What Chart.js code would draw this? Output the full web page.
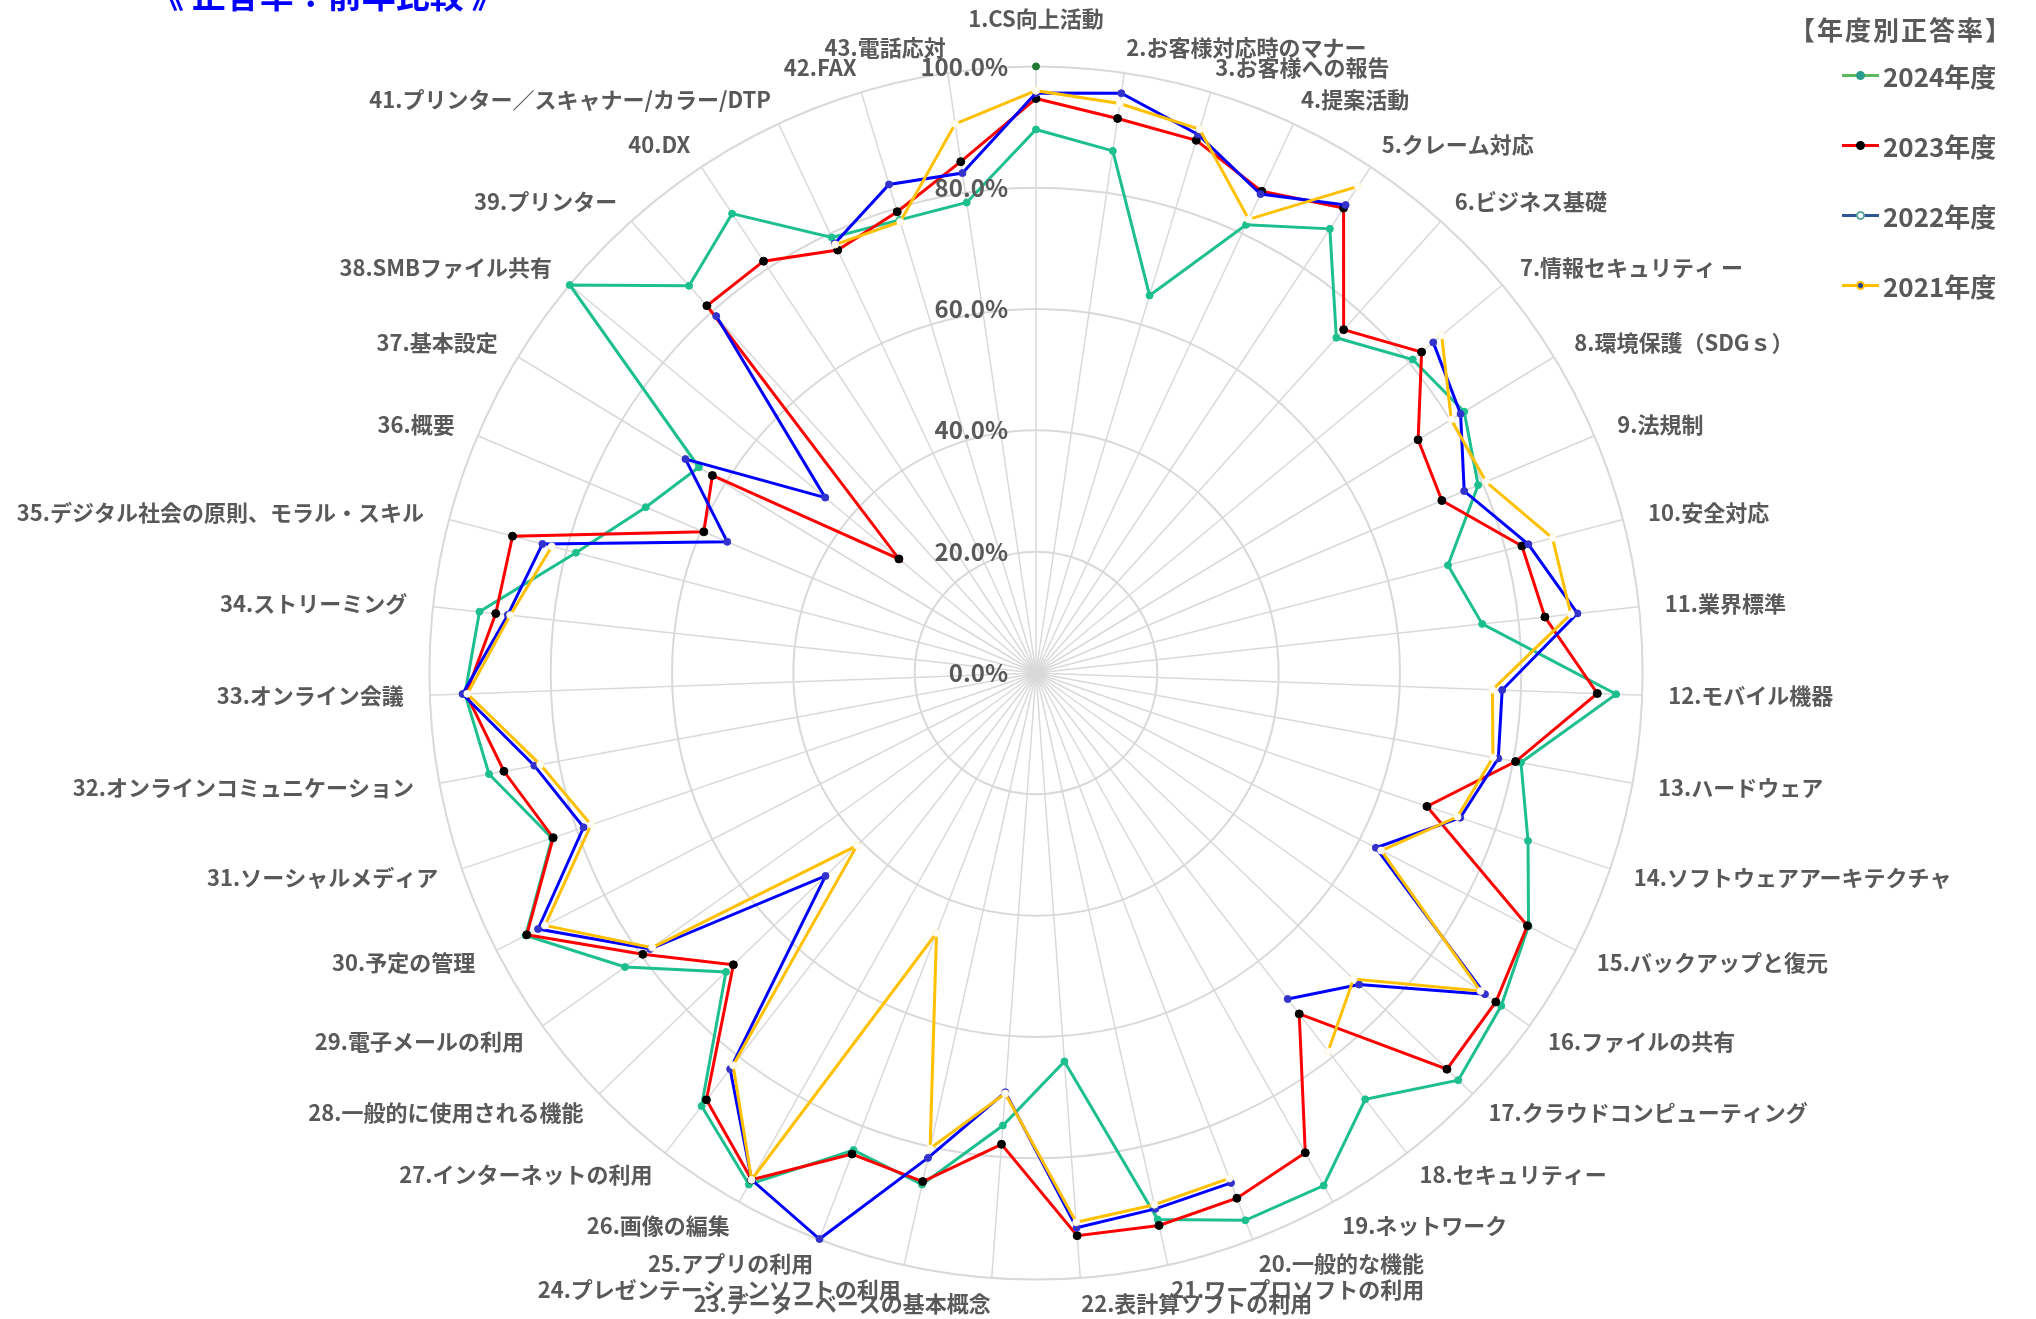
<!DOCTYPE html>
<html lang="ja">
<head>
<meta charset="utf-8">
<title>正答率：前年比較</title>
<script src="https://cdn.jsdelivr.net/npm/chart.js@4.4.1/dist/chart.umd.min.js"></script>
<style>
  html, body { margin: 0; padding: 0; background: #fff; overflow: hidden; width: 2036px; height: 1319px; }
  body { position: relative; font-family: "Noto Sans CJK JP", sans-serif; }
  #chartBox { position: absolute; left: -264px; top: 1px; width: 2600px; height: 1326px; }
  .title { position: absolute; left: 150px; top: -23px; font-size: 34px; font-weight: bold; color: #0000ff; white-space: nowrap; line-height: 1; z-index: 2; }
  .legend-title { position: absolute; left: 1789px; top: 12px; font-size: 26px; line-height: 34px; font-weight: bold; color: #595959; letter-spacing: 2px; white-space: nowrap; z-index: 2; }
  .legend { position: absolute; left: 1842px; top: 40px; z-index: 2; }
  .legend-row { display: flex; align-items: center; height: 70px; }
  .legend-mark { position: relative; width: 37px; height: 3px; margin-right: 4px; }
  .legend-dot { position: absolute; left: 14px; top: -3px; width: 9px; height: 9px; border-radius: 50%; box-sizing: border-box; }
  .legend-text { font-size: 26px; font-weight: bold; color: #595959; white-space: nowrap; }
</style>
</head>
<body>
<div class="title">《 正答率：前年比較 》</div>
<div class="legend-title">【年度別正答率】</div>
<div class="legend" id="legend"></div>
<div id="chartBox"><canvas id="radar" width="2600" height="1326"></canvas></div>
<script>
// 設問カテゴリ（43項目）
const categories = [
    '1.CS向上活動', '2.お客様対応時のマナー', '3.お客様への報告', '4.提案活動', '5.クレーム対応',
    '6.ビジネス基礎', '7.情報セキュリティ ー', '8.環境保護（SDGｓ）', '9.法規制', '10.安全対応',
    '11.業界標準', '12.モバイル機器', '13.ハードウェア', '14.ソフトウェアアーキテクチャ', '15.バックアップと復元',
    '16.ファイルの共有', '17.クラウドコンピューティング', '18.セキュリティー', '19.ネットワーク', '20.一般的な機能',
    '21.ワープロソフトの利用', '22.表計算ソフトの利用', '23.データーベースの基本概念', '24.プレゼンテーションソフトの利用', '25.アプリの利用',
    '26.画像の編集', '27.インターネットの利用', '28.一般的に使用される機能', '29.電子メールの利用', '30.予定の管理',
    '31.ソーシャルメディア', '32.オンラインコミュニケーション', '33.オンライン会議', '34.ストリーミング', '35.デジタル社会の原則、モラル・スキル',
    '36.概要', '37.基本設定', '38.SMBファイル共有', '39.プリンター', '40.DX',
    '41.プリンター／スキャナー/カラー/DTP', '42.FAX', '43.電話応対'
];

// 年度別正答率（%）
const v2024 = [
    89.6, 87.0, 65.0, 81.6, 87.8, 74.2, 80.8, 82.7, 79.2, 70.2,
    74.0, 95.7, 81.3, 85.7, 91.3, 94.3, 96.7, 88.8, 96.9, 96.6,
    92.3, 64.2, 74.8, 86.4, 84.2, 96.7, 90.2, 71.0, 83.3, 94.6,
    84.3, 91.7, 94.2, 92.3, 78.4, 69.9, 65.1, 100.0, 85.7, 90.8,
    79.3, 78.0, 78.4
];
const v2023 = [
    94.7, 92.4, 91.7, 87.7, 91.9, 76.0, 82.7, 73.8, 72.7, 82.8,
    84.4, 92.6, 80.4, 68.1, 91.1, 93.2, 94.1, 71.0, 90.7, 92.7,
    93.3, 93.0, 77.9, 85.9, 84.9, 95.8, 88.9, 69.3, 79.7, 94.4,
    84.1, 89.2, 94.0, 89.6, 89.2, 59.5, 62.5, 29.4, 81.3, 81.4,
    77.0, 79.4, 85.2
];
const v2022 = [
    95.6, 96.6, 92.7, 87.2, 92.5, null, 85.2, 82.0, 76.7, 83.9,
    89.8, 76.9, 77.5, 73.9, 63.0, 91.0, 74.0, 67.9, null, 90.0,
    90.5, 91.7, 69.3, 81.9, 99.9, 95.8, 82.5, 48.2, 78.2, 92.3,
    78.8, 84.1, 94.6, 87.6, 84.1, 55.3, 67.7, 45.2, 79.0, null,
    78.2, 84.1, 83.3
];
const v2021 = [
    96.0, 94.9, 93.6, 82.6, 96.2, null, 87.0, 80.2, 80.6, 88.0,
    88.7, 75.3, 76.6, 73.4, 64.0, 90.1, 72.7, 78.8, null, 89.2,
    89.8, 90.8, 69.5, 80.3, 45.9, 95.8, 81.7, 41.0, 77.8, 91.0,
    77.5, 83.1, 93.8, 87.2, 82.5, null, null, null, null, null,
    78.0, 77.7, 91.5
];
// 先頭軸の100%マーカー
const vMarker = [100.0];

const tickValues = [0, 20, 40, 60, 80, 100];

const seriesNames = ['2024年度', '2023年度', '2022年度', '2021年度'];

// 凡例の見た目（Excel の凡例に合わせる）
const legendStyles = [
    { line: '#5cb85c', dot: '#2a9d8f', dotBorder: '#2a9d8f' },
    { line: '#ff0000', dot: '#000000', dotBorder: '#000000' },
    { line: '#2f5597', dot: '#ffffff', dotBorder: '#5fa8a0' },
    { line: '#ffc000', dot: '#1f3f9f', dotBorder: '#ffc000' }
];

const legendEl = document.getElementById('legend');
legendEl.innerHTML = seriesNames.map((name, i) => `
    <div class="legend-row">
      <div class="legend-mark" style="background:${legendStyles[i].line}">
        <div class="legend-dot" style="background:${legendStyles[i].dot};border:2px solid ${legendStyles[i].dotBorder}"></div>
      </div>
      <span class="legend-text">${name}</span>
    </div>`).join('');

const labelFont = '"Noto Sans CJK JP", "Noto Sans", sans-serif';

// 目盛りラベルを軸の左側に描く
const tickLabelPlugin = {
    id: 'tickLabels',
    afterDatasetsDraw(chart) {
        const scale = chart.scales.r;
        const ctx = chart.ctx;
        ctx.save();
        ctx.font = `bold 24px ${labelFont}`;
        ctx.fillStyle = '#595959';
        ctx.textAlign = 'right';
        ctx.textBaseline = 'middle';
        tickValues.forEach(v => {
            const d = scale.getDistanceFromCenterForValue(v);
            ctx.fillText(v.toFixed(1) + '%', scale.xCenter - 28, scale.yCenter - d);
        });
        ctx.restore();
    }
};

// Excel 風に、横向きの項目名を軸の先端へ縦方向に寄せる
function centerPointLabels(scale) {
    const n = categories.length;
    (scale._pointLabelItems || []).forEach((item, i) => {
        const a = i * 2 * Math.PI / n;
        const h = item.bottom - item.top;
        let shift = (h / 2) * Math.abs(Math.sin(a)) * (Math.cos(a) >= 0 ? 1 : -1);
        if (i === 0) shift = -5;
        item.y += shift;
        item.top += shift;
        item.bottom += shift;
    });
}

function lineSet(label, data, color, pointColor, pointBorder, radius, order) {
    return {
        label,
        data,
        borderColor: color,
        backgroundColor: color,
        borderWidth: 3,
        fill: false,
        tension: 0,
        spanGaps: false,
        pointRadius: radius,
        pointHoverRadius: radius,
        pointBackgroundColor: pointColor,
        pointBorderColor: pointBorder,
        pointBorderWidth: 1,
        order
    };
}

const ctx = document.getElementById('radar').getContext('2d');
new Chart(ctx, {
    type: 'radar',
    data: {
        labels: categories,
        datasets: [
            lineSet(seriesNames[0], v2024, '#1dbf8e', '#1dbf8e', '#1dbf8e', 3.5, 4),
            lineSet(seriesNames[1], v2023, '#ff0000', '#000000', '#000000', 4, 3),
            lineSet(seriesNames[2], v2022, '#0000ff', '#3333cc', '#3333cc', 3.5, 2),
            lineSet(seriesNames[3], v2021, '#ffc000', '#ffffff', '#fff2cc', 3.5, 1),
            {
                label: 'marker',
                data: vMarker,
                showLine: false,
                pointRadius: 3.5,
                pointBackgroundColor: '#1e7b34',
                pointBorderColor: '#1e7b34',
                order: 0
            }
        ]
    },
    options: {
        responsive: false,
        animation: false,
        devicePixelRatio: 1,
        layout: { padding: 0 },
        plugins: {
            legend: { display: false },
            tooltip: { enabled: false }
        },
        scales: {
            r: {
                min: 0,
                max: 100,
                afterFit: centerPointLabels,
                ticks: { display: false, stepSize: 20 },
                grid: { circular: true, color: '#d9d9d9', lineWidth: 2 },
                angleLines: { color: '#d9d9d9', lineWidth: 1.5 },
                pointLabels: {
                    color: '#595959',
                    font: { family: labelFont, size: 22, weight: 'bold' },
                    padding: (c) => c.index === 0
                        ? 30
                        : Math.round(12 + 14 * Math.abs(Math.sin(c.index * 2 * Math.PI / categories.length)))
                }
            }
        }
    },
    plugins: [tickLabelPlugin]
});
</script>
</body>
</html>
